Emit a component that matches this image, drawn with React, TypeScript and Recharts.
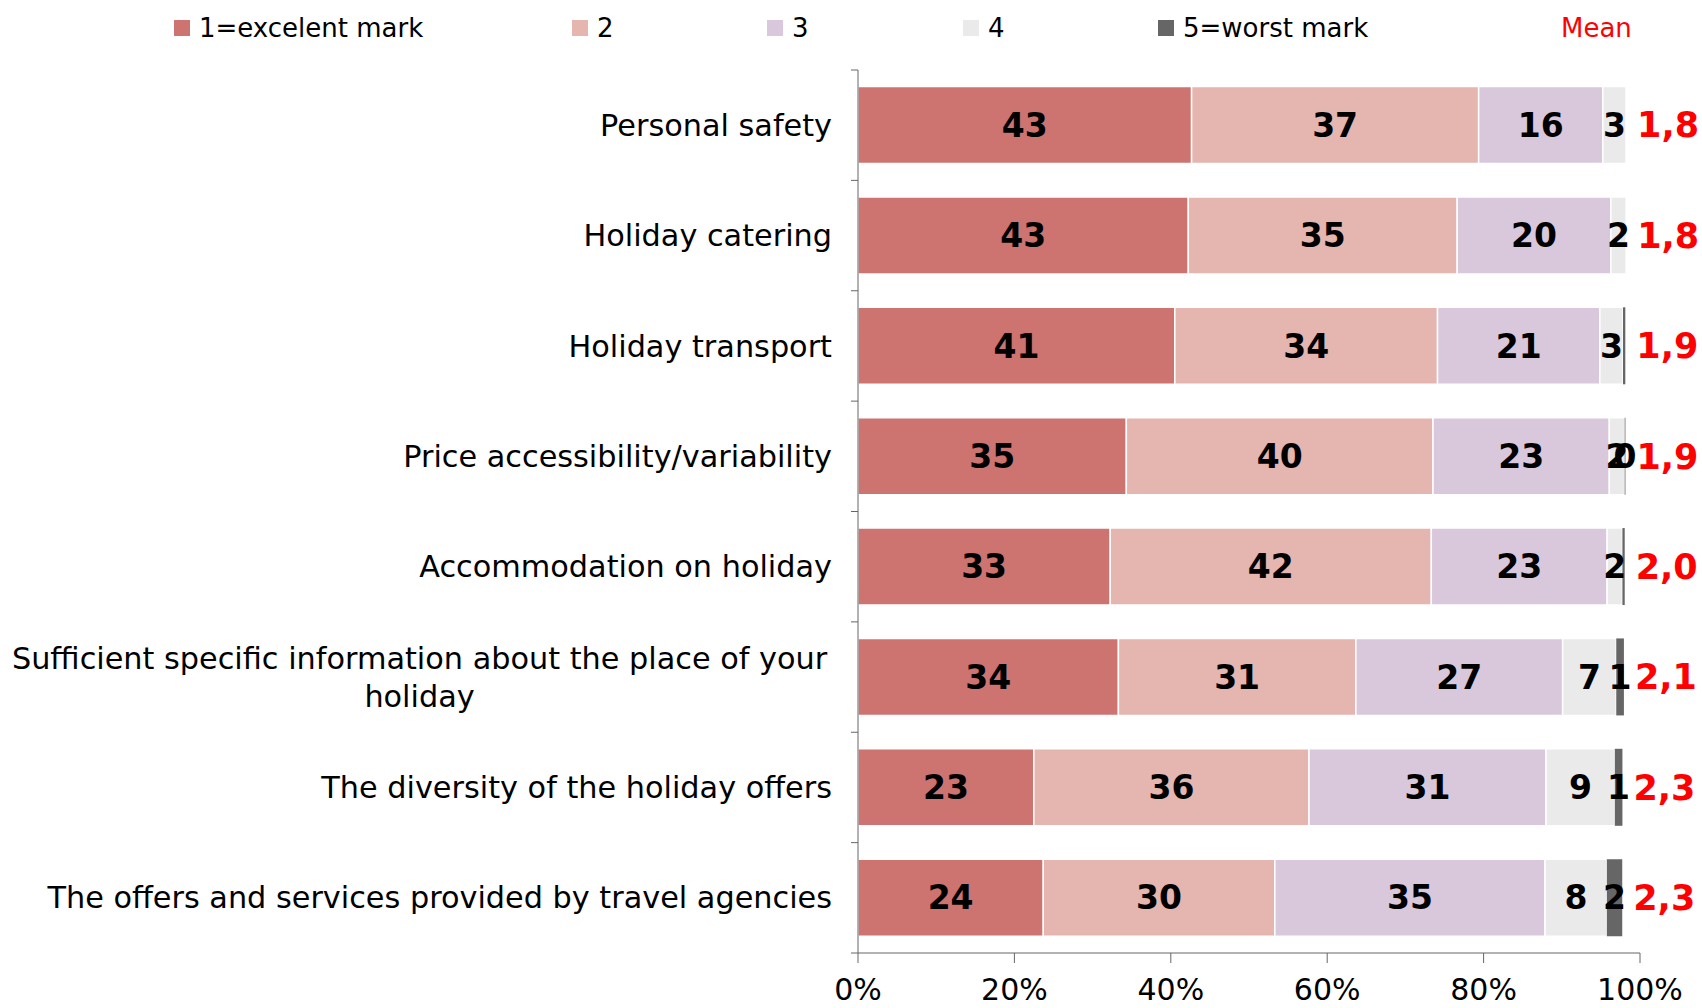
import { BarChart, Bar, XAxis, YAxis, LabelList } from 'recharts';

const categories = [
  'Personal safety',
  'Holiday catering',
  'Holiday transport',
  'Price accessibility/variability',
  'Accommodation on holiday',
  'Sufficient specific information about the place of your holiday',
  'The diversity of the holiday offers',
  'The offers and services provided by travel agencies',
];
const excellent = [43, 43, 41, 35, 33, 34, 23, 24];
const mark2 = [37, 35, 34, 40, 42, 31, 36, 30];
const mark3 = [16, 20, 21, 23, 23, 27, 31, 35];
const mark4 = [3, 2, 3, 2, 2, 7, 9, 8];
const worst = [0, 0, 0.3, 0.1, 0.3, 1, 1, 2];
const worstLabels = [null, null, null, 0, null, 1, 1, 2];
const means = [1.8, 1.8, 1.9, 1.9, 2.0, 2.1, 2.3, 2.3];
const xTicks = [0, 0.2, 0.4, 0.6, 0.8, 1];

const COLORS = ['#CD7370', '#E5B5AF', '#D9C7DB', '#EAEAEA', '#666666'];
const LEGEND = [
  { label: '1=excelent mark', color: COLORS[0], left: 174 },
  { label: '2', color: COLORS[1], left: 572 },
  { label: '3', color: COLORS[2], left: 767 },
  { label: '4', color: COLORS[3], left: 963 },
  { label: '5=worst mark', color: COLORS[4], left: 1158 },
];

const W = 1702;
const H = 1008;
const TOP = 70;
const XAXIS_H = 55;
const PLOT_LEFT = 858;
const BAND = (H - TOP - XAXIS_H) / categories.length;
const FONT = '"DejaVu Sans", Verdana, sans-serif';

const data = categories.map((name, i) => ({
  name,
  excellent: excellent[i],
  mark2: mark2[i],
  mark3: mark3[i],
  mark4: mark4[i],
  worst: worst[i],
  worstLabel: worstLabels[i],
  mean: means[i],
}));

const wrap = (text: string, maxChars: number) => {
  const lines: string[] = [];
  let cur = '';
  text.split(' ').forEach((w) => {
    const next = cur ? cur + ' ' + w : w;
    if (next.length > maxChars && cur) {
      lines.push(cur);
      cur = w;
    } else cur = next;
  });
  if (cur) lines.push(cur);
  return lines;
};

const CategoryTick = (props: any) => {
  const { y, payload, index } = props;
  const right = PLOT_LEFT - 26;
  const lines = wrap(payload.value, 56);
  const top = y - BAND / 2;
  return (
    <g>
      <line x1={PLOT_LEFT - 7} x2={PLOT_LEFT} y1={top} y2={top} stroke="#666" />
      {index === categories.length - 1 && (
        <line x1={PLOT_LEFT - 7} x2={PLOT_LEFT} y1={top + BAND} y2={top + BAND} stroke="#666" />
      )}
      {lines.length === 1 ? (
        <text x={right} y={y} dy="0.35em" textAnchor="end" fontSize={30.3} fontFamily={FONT} fill="#000">
          {lines[0]}
        </text>
      ) : (
        lines.map((l, k) => {
          const w = lines[0].length * 0.495 * 30.3;
          return (
            <text
              key={k}
              x={right - w / 2}
              y={y + (k - (lines.length - 1) / 2) * 38}
              dy="0.35em"
              textAnchor="middle"
              fontSize={30.3}
              fontFamily={FONT}
              fill="#000"
            >
              {l}
            </text>
          );
        })
      )}
    </g>
  );
};

const labelStyle = { fontSize: 33, fontWeight: 700, fontFamily: FONT, fill: '#000' };

export default function App() {
  return (
    <div style={{ position: 'absolute', left: 0, top: 0, width: W, height: H, background: '#fff' }}>
      {LEGEND.map((item) => (
        <div
          key={item.label}
          style={{
            position: 'absolute',
            left: item.left,
            top: 11,
            height: 34,
            display: 'flex',
            alignItems: 'center',
            fontFamily: FONT,
            fontSize: 26,
            color: '#000',
            whiteSpace: 'nowrap',
          }}
        >
          <span style={{ width: 16, height: 16, background: item.color, marginRight: 9, display: 'inline-block' }} />
          {item.label}
        </div>
      ))}
      <div
        style={{
          position: 'absolute',
          left: 1561,
          top: 11,
          height: 34,
          display: 'flex',
          alignItems: 'center',
          fontFamily: FONT,
          fontSize: 26,
          color: '#FF0000',
        }}
      >
        Mean
      </div>
      <div style={{ position: 'absolute', left: 869, top: 585, fontFamily: FONT, fontSize: 16, color: '#000' }}>c</div>
      <div style={{ position: 'absolute', left: 0, top: 0 }}>
        <BarChart
          width={W}
          height={H}
          data={data}
          layout="vertical"
          stackOffset="expand"
          barCategoryGap="15%"
          margin={{ top: TOP, right: W - 1640, bottom: 0, left: 0 }}
        >
          <XAxis
            type="number"
            domain={[0, 1]}
            ticks={xTicks}
            tickFormatter={(v: number) => `${Math.round(v * 100)}%`}
            height={XAXIS_H}
            tickSize={10}
            tickMargin={16}
            stroke="#666"
            tick={{ fontSize: 30, fontFamily: FONT, fill: '#000' }}
          />
          <YAxis
            type="category"
            dataKey="name"
            width={PLOT_LEFT}
            tickLine={false}
            stroke="#666"
            interval={0}
            tick={<CategoryTick />}
          />
          <Bar dataKey="excellent" stackId="a" fill={COLORS[0]} stroke="#fff" strokeWidth={1.5} isAnimationActive={false}>
            <LabelList dataKey="excellent" position="center" style={labelStyle} />
          </Bar>
          <Bar dataKey="mark2" stackId="a" fill={COLORS[1]} stroke="#fff" strokeWidth={1.5} isAnimationActive={false}>
            <LabelList dataKey="mark2" position="center" style={labelStyle} />
          </Bar>
          <Bar dataKey="mark3" stackId="a" fill={COLORS[2]} stroke="#fff" strokeWidth={1.5} isAnimationActive={false}>
            <LabelList dataKey="mark3" position="center" style={labelStyle} />
          </Bar>
          <Bar dataKey="mark4" stackId="a" fill={COLORS[3]} stroke="#fff" strokeWidth={1.5} isAnimationActive={false}>
            <LabelList dataKey="mark4" position="center" style={labelStyle} />
          </Bar>
          <Bar dataKey="worst" stackId="a" fill={COLORS[4]} isAnimationActive={false}>
            <LabelList dataKey="worstLabel" position="center" style={labelStyle} />
          </Bar>
          <Bar dataKey="mean" stackId="a" fill="transparent" isAnimationActive={false}>
            <LabelList
              dataKey="mean"
              position="insideLeft"
              offset={11}
              formatter={(v: any) => Number(v).toFixed(1).replace('.', ',')}
              style={{ ...labelStyle, fill: '#FF0000', fontSize: 35 }}
            />
          </Bar>
        </BarChart>
      </div>
    </div>
  );
}
